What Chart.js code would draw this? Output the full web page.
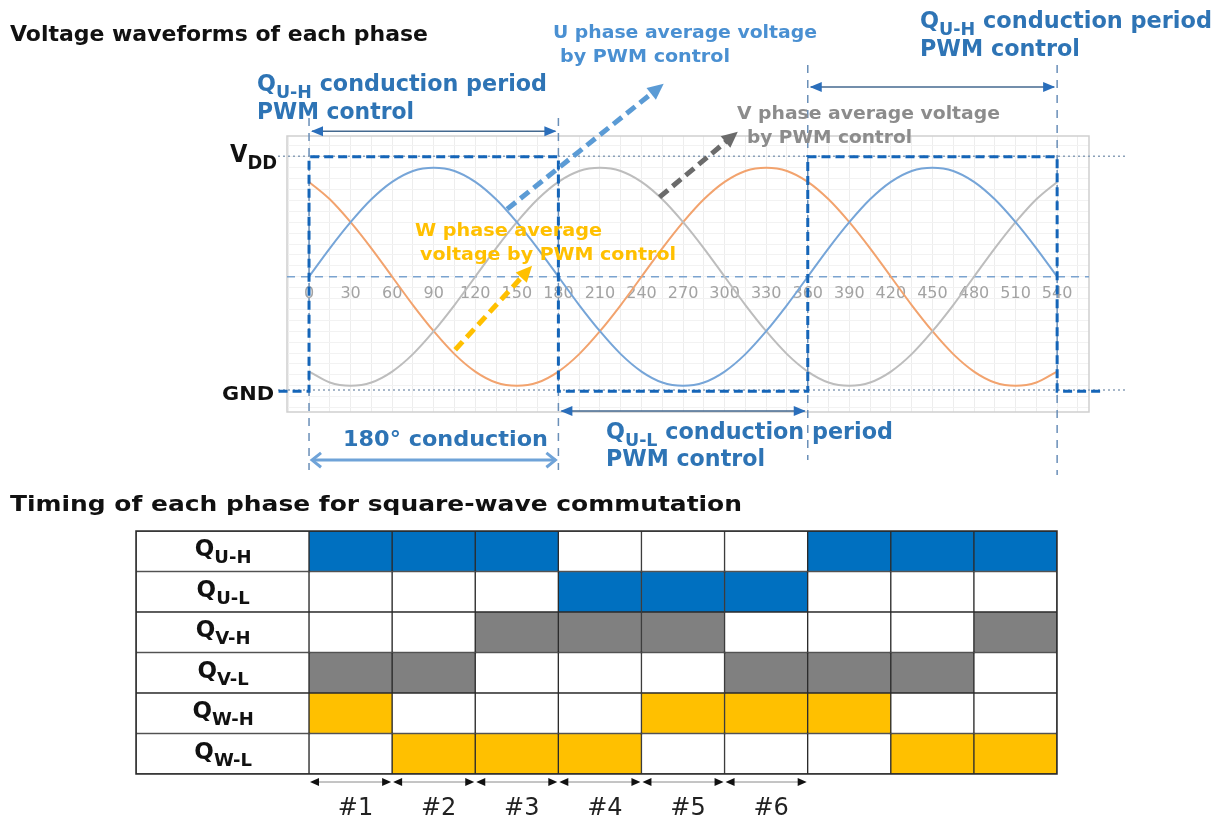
<!DOCTYPE html>
<html>
<head>
<meta charset="utf-8">
<script src="https://cdn.jsdelivr.net/npm/chart.js@4.4.1/dist/chart.umd.min.js"></script>
<style>
  html, body { margin: 0; padding: 0; background: #fff; }
  #wrap { position: relative; width: 1224px; height: 823px; }
  canvas { position: absolute; left: 0; top: 0; }
</style>
</head>
<body>
<div id="wrap">
  <canvas id="tableChart" width="1224" height="823"></canvas>
  <canvas id="waveChart" width="1224" height="823"></canvas>
</div>
<script>
// ---- waveform data (electrical angle in degrees, normalised voltage) ----
const degrees = [0,15,30,45,60,75,90,105,120,135,150,165,180,195,210,225,240,255,270,285,300,315,330,345,360,375,390,405,420,435,450,465,480,495,510,525,540];
const uPhase = [0,0.26,0.5,0.71,0.87,0.97,1,0.97,0.87,0.71,0.5,0.26,0,-0.26,-0.5,-0.71,-0.87,-0.97,-1,-0.97,-0.87,-0.71,-0.5,-0.26,0,0.26,0.5,0.71,0.87,0.97,1,0.97,0.87,0.71,0.5,0.26,0];
const vPhase = [-0.87,-0.97,-1,-0.97,-0.87,-0.71,-0.5,-0.26,0,0.26,0.5,0.71,0.87,0.97,1,0.97,0.87,0.71,0.5,0.26,0,-0.26,-0.5,-0.71,-0.87,-0.97,-1,-0.97,-0.87,-0.71,-0.5,-0.26,0,0.26,0.5,0.71,0.87];
const wPhase = [0.87,0.71,0.5,0.26,0,-0.26,-0.5,-0.71,-0.87,-0.97,-1,-0.97,-0.87,-0.71,-0.5,-0.26,0,0.26,0.5,0.71,0.87,0.97,1,0.97,0.87,0.71,0.5,0.26,0,-0.26,-0.5,-0.71,-0.87,-0.97,-1,-0.97,-0.87];
const tickDegrees = [0,30,60,90,120,150,180,210,240,270,300,330,360,390,420,450,480,510,540];

// Q_U-H gate signal (square wave)
const squareX = [-22,0,0,180,180,360,360,540,540,573];
const squareY = [-1.05,-1.05,1.1,1.1,-1.05,-1.05,1.1,1.1,-1.05,-1.05];
const vddLevel = 1.105;
const gndLevel = -1.04;
const guideDegrees = [0,180,360,540];

// ---- switching table ----
const switchNames = ['U-H','U-L','V-H','V-L','W-H','W-L'];
const columnEdges = [0,60,120,180,240,300,360,420,480,540];
const stateUH = [1,1,1,0,0,0,1,1,1];
const stateUL = [0,0,0,1,1,1,0,0,0];
const stateVH = [0,0,1,1,1,0,0,0,1];
const stateVL = [1,1,0,0,0,1,1,1,0];
const stateWH = [1,0,0,0,1,1,1,0,0];
const stateWL = [0,1,1,1,0,0,0,1,1];
const stepLabels = ['#1','#2','#3','#4','#5','#6'];

const stateRows = [stateUH, stateUL, stateVH, stateVL, stateWH, stateWL];
const rowColors = ['#0070c0','#0070c0','#808080','#808080','#ffc000','#ffc000'];
const FONT = '"DejaVu Sans", Verdana, sans-serif';

const pts = (xs, ys) => xs.map((x, i) => ({x: x, y: ys[i]}));

// text with optional subscripts, squeezed to a target width
function drawRich(ctx, parts, x, y, size, color, fitWidth, align, weight) {
  weight = weight || 'bold';
  ctx.save();
  ctx.fillStyle = color;
  ctx.textBaseline = 'alphabetic';
  ctx.textAlign = 'left';
  const fonts = parts.map(p => weight + ' ' + (p[1] ? Math.round(size * 0.8) : size) + 'px ' + FONT);
  let w = 0;
  parts.forEach((p, i) => { ctx.font = fonts[i]; w += ctx.measureText(p[0]).width; });
  const sx = fitWidth ? fitWidth / w : 1;
  const start = align === 'center' ? x - w * sx / 2 : x;
  ctx.translate(start, y);
  ctx.scale(sx, 1);
  let cx = 0;
  parts.forEach((p, i) => {
    ctx.font = fonts[i];
    ctx.fillText(p[0], cx, p[1] ? size * 0.3 : 0);
    cx += ctx.measureText(p[0]).width;
  });
  ctx.restore();
}

function head(ctx, x, y, angle, len, wid, color) {
  ctx.save();
  ctx.translate(x, y);
  ctx.rotate(angle);
  ctx.beginPath();
  ctx.moveTo(0, 0);
  ctx.lineTo(-len, wid / 2);
  ctx.lineTo(-len, -wid / 2);
  ctx.closePath();
  ctx.fillStyle = color;
  ctx.fill();
  ctx.restore();
}

function chevron(ctx, x, y, dir, size, color) {
  ctx.save();
  ctx.strokeStyle = color;
  ctx.lineWidth = 3;
  ctx.beginPath();
  ctx.moveTo(x - dir * size, y - size * 0.8);
  ctx.lineTo(x, y);
  ctx.lineTo(x - dir * size, y + size * 0.8);
  ctx.stroke();
  ctx.restore();
}

// annotations on the waveform chart, in data units
const spanArrows = [
  {x0: 0, x1: 180, y: 1.335, line: '#44698f', head: '#2a6ebb', w: 1.5, kind: 'fill'},
  {x0: 360, x1: 540, y: 1.74, line: '#44698f', head: '#2a6ebb', w: 1.5, kind: 'fill'},
  {x0: 180, x1: 360, y: -1.232, line: '#44698f', head: '#2a6ebb', w: 1.5, kind: 'fill'},
  {x0: 0, x1: 180, y: -1.682, line: '#6fa3d8', head: '#6fa3d8', w: 3, kind: 'chevron'}
];
const phaseArrows = [
  {from: [143, 0.62], to: [256, 1.77], color: '#5b9bd5'},
  {from: [253, 0.73], to: [309.5, 1.33], color: '#6b6b6b'},
  {from: [105.5, -0.67], to: [161, 0.1], color: '#ffc000'}
];
const BLUE = '#2e74b5';
const textItems = [
  {parts: [['Voltage waveforms of each phase']], x: 10, y: 41, size: 22, color: '#111', w: 418},
  {parts: [['Q'], ['U-H', 1], [' conduction period']], x: 257, y: 91, size: 23, color: BLUE, w: 290},
  {parts: [['PWM control']], x: 257, y: 119, size: 23, color: BLUE, w: 157},
  {parts: [['Q'], ['U-H', 1], [' conduction period']], x: 920, y: 28, size: 23, color: BLUE, w: 292},
  {parts: [['PWM control']], x: 920, y: 56, size: 23, color: BLUE, w: 160},
  {parts: [['U phase average voltage']], x: 553, y: 38, size: 18, color: '#4a90d2', w: 264},
  {parts: [['by PWM control']], x: 560, y: 62, size: 18, color: '#4a90d2', w: 170},
  {parts: [['V phase average voltage']], x: 737, y: 119, size: 18, color: '#8c8c8c', w: 263},
  {parts: [['by PWM control']], x: 747, y: 143, size: 18, color: '#8c8c8c', w: 165},
  {parts: [['W phase average']], x: 415, y: 236, size: 18, color: '#ffc000', w: 187},
  {parts: [['voltage by PWM control']], x: 420, y: 260, size: 18, color: '#ffc000', w: 256},
  {parts: [['180\u00b0 conduction']], x: 343, y: 446, size: 22, color: BLUE, w: 205},
  {parts: [['Q'], ['U-L', 1], [' conduction period']], x: 606, y: 439, size: 23, color: BLUE, w: 287},
  {parts: [['PWM control']], x: 606, y: 466, size: 23, color: BLUE, w: 159},
  {parts: [['V'], ['DD', 1]], x: 230, y: 162, size: 24, color: '#111', w: 47},
  {parts: [['GND']], x: 222, y: 400, size: 20, color: '#111', w: 52}
];

const wavePlugin = {
  id: 'waveDecor',
  beforeDatasetsDraw(chart) {
    const a = chart.chartArea, ctx = chart.ctx;
    ctx.save();
    ctx.strokeStyle = '#cfcfcf';
    ctx.lineWidth = 1.5;
    ctx.strokeRect(a.left, a.top, a.right - a.left, a.bottom - a.top);
    ctx.restore();
  },
  afterDatasetsDraw(chart) {
    const ctx = chart.ctx, xs = chart.scales.x, ys = chart.scales.y;
    spanArrows.forEach(s => {
      const x0 = xs.getPixelForValue(s.x0), x1 = xs.getPixelForValue(s.x1), y = ys.getPixelForValue(s.y);
      ctx.save();
      ctx.strokeStyle = s.line;
      ctx.lineWidth = s.w;
      ctx.beginPath();
      ctx.moveTo(x0 + 3, y);
      ctx.lineTo(x1 - 3, y);
      ctx.stroke();
      ctx.restore();
      if (s.kind === 'fill') {
        head(ctx, x0 + 2, y, Math.PI, 12, 10, s.head);
        head(ctx, x1 - 2, y, 0, 12, 10, s.head);
      } else {
        chevron(ctx, x0 + 3, y, -1, 9, s.head);
        chevron(ctx, x1 - 3, y, 1, 9, s.head);
      }
    });
    phaseArrows.forEach(p => {
      const x0 = xs.getPixelForValue(p.from[0]), y0 = ys.getPixelForValue(p.from[1]);
      const x1 = xs.getPixelForValue(p.to[0]), y1 = ys.getPixelForValue(p.to[1]);
      const ang = Math.atan2(y1 - y0, x1 - x0);
      ctx.save();
      ctx.strokeStyle = p.color;
      ctx.lineWidth = 5;
      ctx.setLineDash([11, 6]);
      ctx.beginPath();
      ctx.moveTo(x0, y0);
      ctx.lineTo(x1 - 12 * Math.cos(ang), y1 - 12 * Math.sin(ang));
      ctx.stroke();
      ctx.restore();
      head(ctx, x1, y1, ang, 16, 15, p.color);
    });
    textItems.forEach(t => drawRich(ctx, t.parts, t.x, t.y, t.size, t.color, t.w));
  }
};

const guideSets = guideDegrees.map((d, i) => ({
  data: [{x: d, y: [1.456, 1.456, 1.942, 1.942][i]}, {x: d, y: [-1.773, -1.773, -1.682, -1.819][i]}],
  borderColor: '#6a8fb8', borderWidth: 1.5, borderDash: [8, 7], pointRadius: 0, clip: false
}));

new Chart(document.getElementById('waveChart'), {
  type: 'line',
  data: {
    datasets: [
      {data: pts(squareX, squareY), borderColor: '#1565b8', borderWidth: 3, borderDash: [9, 5], pointRadius: 0, clip: false, tension: 0},
      ...guideSets,
      {data: pts(degrees, uPhase), borderColor: '#76a5d8', borderWidth: 2, pointRadius: 0, cubicInterpolationMode: 'monotone'},
      {data: pts(degrees, vPhase), borderColor: '#bdbdbd', borderWidth: 2, pointRadius: 0, cubicInterpolationMode: 'monotone'},
      {data: pts(degrees, wPhase), borderColor: '#f2a36e', borderWidth: 2, pointRadius: 0, cubicInterpolationMode: 'monotone'},
      {data: [{x: -15.9, y: 0}, {x: 563, y: 0}], borderColor: '#7ba3cf', borderWidth: 1.5, borderDash: [8, 6], pointRadius: 0},
      {data: [{x: -22.4, y: vddLevel}, {x: 591, y: vddLevel}], borderColor: '#8aa0b8', borderWidth: 1.5, borderDash: [2, 3], pointRadius: 0, clip: false},
      {data: [{x: -22.4, y: gndLevel}, {x: 591, y: gndLevel}], borderColor: '#8aa0b8', borderWidth: 1.5, borderDash: [2, 3], pointRadius: 0, clip: false}
    ]
  },
  options: {
    responsive: false,
    devicePixelRatio: 1,
    animation: false,
    events: [],
    layout: {padding: {left: 287, top: 136, right: 135, bottom: 411}},
    plugins: {legend: {display: false}, tooltip: {enabled: false}},
    scales: {
      x: {
        type: 'linear', min: -15.9, max: 563,
        position: {y: 0},
        afterBuildTicks: axis => {
          const t = [];
          for (let v = -15; v <= 555; v += 15) t.push({value: v});
          axis.ticks = t;
        },
        grid: {color: '#ededed', lineWidth: 1, drawTicks: false},
        border: {display: false},
        ticks: {
          autoSkip: false, maxRotation: 0, padding: 8, color: '#a3a3a3',
          font: {family: FONT, size: 16},
          callback: v => tickDegrees.includes(v) ? String(v) : ''
        }
      },
      y: {
        type: 'linear', min: -1.241, max: 1.291,
        afterBuildTicks: axis => {
          const t = [];
          for (let v = -12; v <= 12; v++) t.push({value: v / 10});
          axis.ticks = t;
        },
        grid: {color: '#f2f2f2', lineWidth: 1, drawTicks: false},
        border: {display: false},
        ticks: {display: false}
      }
    }
  },
  plugins: [wavePlugin]
});

// ---- timing table ----
const cellSets = columnEdges.slice(0, -1).map((e, c) => ({
  data: switchNames.map(() => [columnEdges[c], columnEdges[c + 1]]),
  backgroundColor: switchNames.map((s, r) => stateRows[r][c] ? rowColors[r] : '#ffffff'),
  borderColor: '#2b2b2b', borderWidth: 1, borderSkipped: false, grouped: false,
  barPercentage: 1, categoryPercentage: 1
}));
const labelSet = {
  data: switchNames.map(() => [-124.9, 0]),
  backgroundColor: '#ffffff', borderColor: '#2b2b2b', borderWidth: 1, borderSkipped: false, grouped: false,
  barPercentage: 1, categoryPercentage: 1
};

const tablePlugin = {
  id: 'tableDecor',
  afterDatasetsDraw(chart) {
    const ctx = chart.ctx, xs = chart.scales.x, ys = chart.scales.y, a = chart.chartArea;
    ctx.save();
    ctx.strokeStyle = '#2b2b2b';
    ctx.lineWidth = 1.5;
    ctx.strokeRect(a.left, a.top, a.right - a.left, a.bottom - a.top);
    ctx.restore();
    const labelX = xs.getPixelForValue(-62);
    switchNames.forEach((s, r) => {
      const cy = ys.getPixelForValue(r);
      drawRich(ctx, [['Q'], [s, 1]], labelX, cy + 5, 23, '#111', null, 'center');
    });
    const ay = a.bottom + 8;
    stepLabels.forEach((lab, i) => {
      const x0 = xs.getPixelForValue(columnEdges[i]), x1 = xs.getPixelForValue(columnEdges[i + 1]);
      ctx.save();
      ctx.strokeStyle = '#8a8a8a';
      ctx.lineWidth = 1;
      ctx.beginPath();
      ctx.moveTo(x0 + 4, ay);
      ctx.lineTo(x1 - 4, ay);
      ctx.stroke();
      ctx.restore();
      head(ctx, x0 + 1, ay, Math.PI, 9, 8, '#111');
      head(ctx, x1 - 1, ay, 0, 9, 8, '#111');
      drawRich(ctx, [[lab]], (x0 + x1) / 2 + 5, 815, 24, '#222', null, 'center', 'normal');
    });
    drawRich(ctx, [['Timing of each phase for square-wave commutation']], 10, 511, 21, '#111', 732);
  }
};

new Chart(document.getElementById('tableChart'), {
  type: 'bar',
  data: {labels: switchNames, datasets: [labelSet, ...cellSets]},
  options: {
    indexAxis: 'y',
    responsive: false,
    devicePixelRatio: 1,
    animation: false,
    events: [],
    layout: {padding: {left: 136, top: 531, right: 167, bottom: 49}},
    plugins: {legend: {display: false}, tooltip: {enabled: false}},
    scales: {
      x: {type: 'linear', min: -124.9, max: 540, display: false},
      y: {type: 'category', display: false}
    }
  },
  plugins: [tablePlugin]
});
</script>
</body>
</html>
